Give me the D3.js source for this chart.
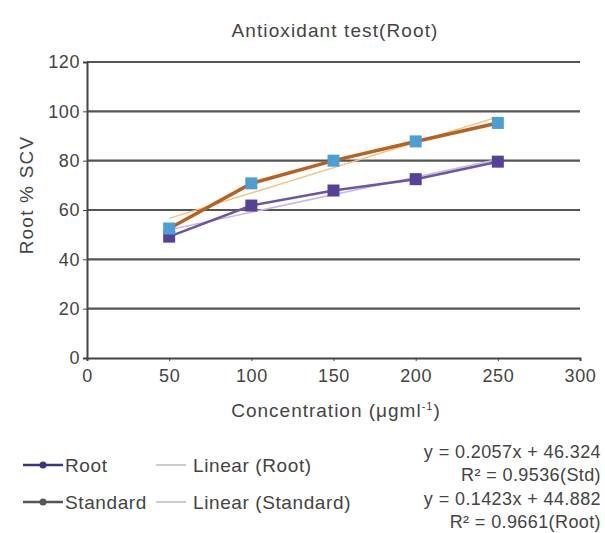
<!DOCTYPE html>
<html>
<head>
<meta charset="utf-8">
<script src="https://cdn.jsdelivr.net/npm/d3@7"></script>
<style>
  body { margin: 0; background: #fff; }
  text { font-family: "Liberation Sans", Arial, sans-serif; fill: #444; }
</style>
</head>
<body>
<div id="chart"></div>
<script>
// data
var concentrations = [50, 100, 150, 200, 250];
var rootValues = [49.2, 61.8, 67.9, 72.5, 79.6];
var standardValues = [52.5, 70.8, 80.0, 87.8, 95.3];
var trendRoot = { slope: 0.1423, intercept: 44.882 };
var trendStd = { slope: 0.2057, intercept: 46.324 };
var yTicks = [0, 20, 40, 60, 80, 100, 120];
var xTicks = [0, 50, 100, 150, 200, 250, 300];
var equations = ["y = 0.2057x + 46.324", "R\u00b2 = 0.9536(Std)",
                 "y = 0.1423x + 44.882", "R\u00b2 = 0.9661(Root)"];

var width = 605, height = 533;
var margin = { left: 87, right: 25, top: 62, bottom: 176 };

var svg = d3.select("#chart").append("svg")
    .attr("width", width)
    .attr("height", height);

var x = d3.scaleLinear().domain([0, 300]).range([margin.left, width - margin.right]);
var y = d3.scaleLinear().domain([0, 120]).range([height - margin.bottom + 1, margin.top]);

// gridlines
svg.selectAll(".grid")
    .data(yTicks.slice(1))
    .enter().append("line")
    .attr("x1", x(0)).attr("x2", x(300))
    .attr("y1", function(d) { return y(d); })
    .attr("y2", function(d) { return y(d); })
    .attr("stroke", "#555")
    .attr("stroke-width", 2.2);

// axes
var yAxis = svg.append("g")
    .attr("transform", "translate(" + x(0) + ",0)")
    .call(d3.axisLeft(y).tickValues(yTicks).tickSize(4).tickPadding(3));
var xAxis = svg.append("g")
    .attr("transform", "translate(0," + y(0) + ")")
    .call(d3.axisBottom(x).tickValues(xTicks).tickSize(3).tickPadding(8));

[yAxis, xAxis].forEach(function(a) {
    a.select(".domain").attr("stroke", "#444").attr("stroke-width", 2);
    a.selectAll(".tick line").attr("stroke", "#444");
    a.selectAll("text").style("font-size", "18px").attr("fill", "#555")
        .style("letter-spacing", "0.6px")
        .style("font-family", "Liberation Sans, Arial, sans-serif");
});

// trendlines (thin)
var trendLine = d3.line()
    .x(function(d) { return x(d[0]); })
    .y(function(d) { return y(d[1]); });

function trendPoints(t) {
    return [50, 250].map(function(c) { return [c, t.slope * c + t.intercept]; });
}

svg.append("path")
    .attr("d", trendLine(trendPoints(trendStd)))
    .attr("fill", "none").attr("stroke", "#f4c27a").attr("stroke-width", 1.5);
svg.append("path")
    .attr("d", trendLine(trendPoints(trendRoot)))
    .attr("fill", "none").attr("stroke", "#c9b8e4").attr("stroke-width", 1.5);

// series
var series = [
    { name: "Root", values: rootValues, line: "#6b55a8", marker: "#56409a", w: 2.5 },
    { name: "Standard", values: standardValues, line: "#b8621f", marker: "#4a9fd6", w: 3.5 }
];

var line = d3.line()
    .x(function(d, i) { return x(concentrations[i]); })
    .y(function(d) { return y(d); });

series.forEach(function(s) {
    svg.append("path")
        .attr("d", line(s.values))
        .attr("fill", "none")
        .attr("stroke", s.line)
        .attr("stroke-width", s.w);
});

series.forEach(function(s) {
    svg.selectAll(null)
        .data(s.values)
        .enter().append("rect")
        .attr("x", function(d, i) { return x(concentrations[i]) - 6; })
        .attr("y", function(d) { return y(d) - 6; })
        .attr("width", 12).attr("height", 12)
        .attr("fill", s.marker);
});

// titles
svg.append("text")
    .attr("x", 335).attr("y", 37)
    .attr("text-anchor", "middle")
    .style("font-size", "19px")
    .style("letter-spacing", "1.1px")
    .text("Antioxidant test(Root)");

svg.append("text")
    .attr("transform", "translate(33,195) rotate(-90)")
    .attr("text-anchor", "middle")
    .style("font-size", "19px")
    .style("letter-spacing", "1.2px")
    .text("Root % SCV");

var xl = svg.append("text")
    .attr("x", 336).attr("y", 417)
    .attr("text-anchor", "middle")
    .style("font-size", "19px")
    .style("letter-spacing", "1px");
xl.append("tspan").text("Concentration (\u03bcgml");
xl.append("tspan").attr("dy", -7).style("font-size", "11px").text("-1");
xl.append("tspan").attr("dy", 7).text(")");

// legend
var legend = [
    { label: "Root", x: 23, y: 465, color: "#3a3580", dot: true },
    { label: "Standard", x: 23, y: 502, color: "#555", dot: true },
    { label: "Linear (Root)", x: 156, y: 465, color: "#bbb", dot: false },
    { label: "Linear (Standard)", x: 156, y: 502, color: "#bbb", dot: false }
];

var lg = svg.selectAll(".legend")
    .data(legend)
    .enter().append("g")
    .attr("transform", function(d) { return "translate(" + d.x + "," + d.y + ")"; });

lg.append("line")
    .attr("x1", 0).attr("x2", function(d) { return d.dot ? 40 : 30; })
    .attr("y1", 0).attr("y2", 0)
    .attr("stroke", function(d) { return d.color; })
    .attr("stroke-width", function(d) { return d.dot ? 2.5 : 1.5; });
lg.filter(function(d) { return d.dot; }).append("circle")
    .attr("cx", 20).attr("cy", 0).attr("r", 3.5)
    .attr("fill", function(d) { return d.color; });
lg.append("text")
    .attr("x", function(d) { return d.dot ? 42 : 37; })
    .attr("y", 7)
    .style("font-size", "19px")
    .style("letter-spacing", "0.6px")
    .text(function(d) { return d.label; });

svg.selectAll(".eq")
    .data(equations)
    .enter().append("text")
    .attr("x", 601)
    .attr("y", function(d, i) { return 458 + i * 23.3; })
    .attr("text-anchor", "end")
    .style("font-size", "18px")
    .style("letter-spacing", "0.4px")
    .text(function(d) { return d; });
</script>
</body>
</html>
